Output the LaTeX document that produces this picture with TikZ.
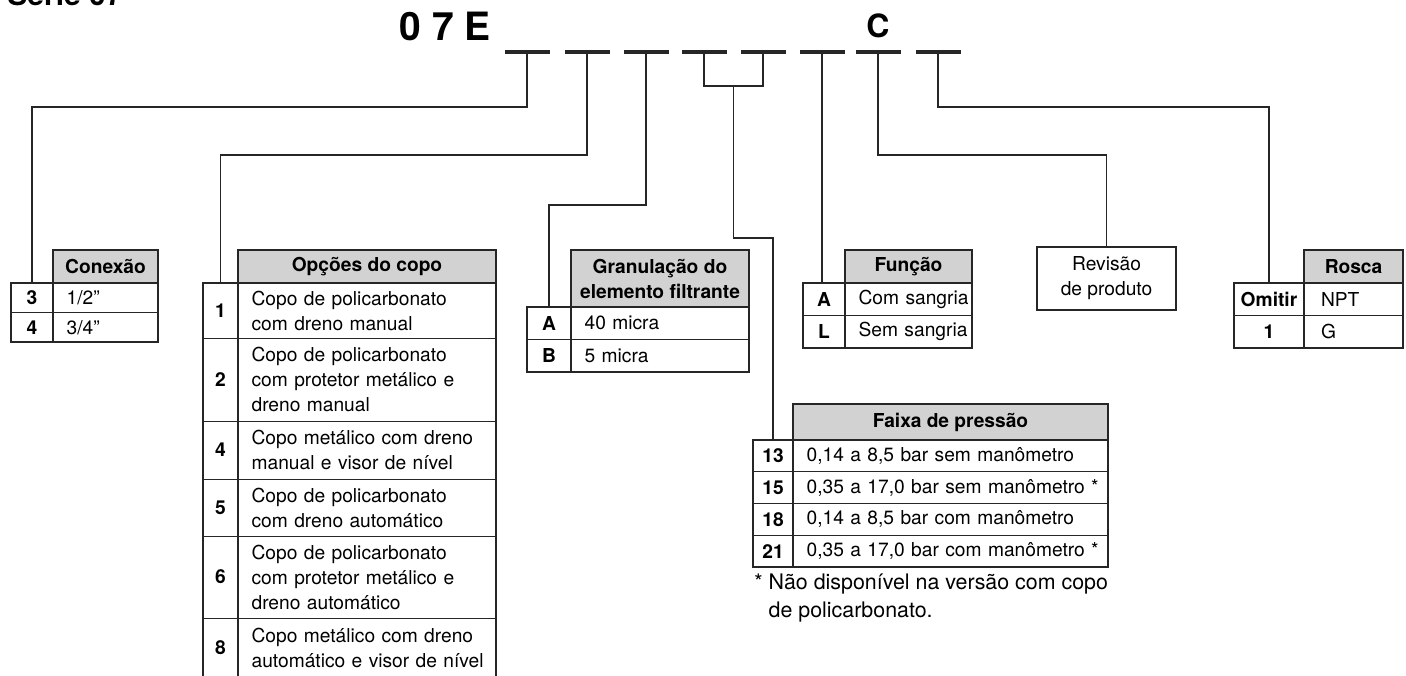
\documentclass[tikz,border=0pt]{standalone}
\usepackage{fontspec}
\setmainfont{TeX Gyre Heros}
\usetikzlibrary{calc}

\begin{document}
\begin{tikzpicture}[
    x=0.5pt, y=-0.5pt,
    font=\fontsize{9.6}{12.5}\selectfont,
    link/.style={line width=0.6pt, draw=black!85},
    slot/.style={fill=black!85, minimum width=22.5pt, minimum height=1.6pt, inner sep=0pt, outer sep=0pt},
    cell/.style={draw=black!85, line width=0.45pt, anchor=north west, inner sep=0pt, outer sep=0pt},
    numc/.style={cell, font=\fontsize{9.6}{12.5}\selectfont\bfseries, align=center},
    txtc/.style={cell, align=left, execute at begin node={\leftskip=6.8pt}},
    head/.style={cell, line width=1pt, fill=gray!35, font=\fontsize{9.6}{12.5}\selectfont\bfseries, align=center},
    frame/.style={draw=black!85, line width=1.2pt},
    code/.style={font=\fontsize{19.5}{20}\selectfont\bfseries, inner sep=0pt}
]
\useasboundingbox (0,0) rectangle (1406,675);

% titulo e codigo
\node[font=\fontsize{15}{15}\selectfont\bfseries, anchor=base west, inner sep=0pt] (serie) at (7,5) {Série 07};
\node[code, anchor=base] (pref) at (445,40) {0 7 E};
\node[code, font=\fontsize{16}{16}\selectfont\bfseries, anchor=base] (letc) at (878,37) {C};
\foreach \i/\x in {1/527,2/587,3/646,4/704,5/763,6/822,7/878,8/938}
    \node[slot] (d\i) at (\x,52) {};

% ------------------- Conexao -------------------
\node[head, minimum width=52.5pt, minimum height=16.5pt] (cx-h) at (53,250) {Conexão};
\node[numc, minimum width=21pt, minimum height=14.75pt] (cx1) at (11,283) {3};
\node[txtc, text width=52.5pt, minimum height=14.75pt] (cx1t) at (53,283) {1/2"};
\node[numc, minimum width=21pt, minimum height=14.75pt] (cx2) at (11,312.5) {4};
\node[txtc, text width=52.5pt, minimum height=14.75pt] (cx2t) at (53,312.5) {3/4"};
\draw[frame] (cx1.north west) rectangle (cx2t.south east);
\draw[frame] (cx1.north east) -- (cx2.south east);

% ------------------- Opcoes do copo -------------------
\node[head, minimum width=129pt, minimum height=16.5pt] (op-h) at (238,250) {Opções do copo};
\node[numc, minimum width=17.5pt, minimum height=27.5pt] (op1) at (203,283) {1};
\node[txtc, text width=129pt, minimum height=27.5pt] (op1t) at (238,283) {Copo de policarbonato\\com dreno manual};
\node[numc, minimum width=17.5pt, minimum height=41.5pt] (op2) at (203,338) {2};
\node[txtc, text width=129pt, minimum height=41.5pt] (op2t) at (238,338) {Copo de policarbonato\\com protetor metálico e\\dreno manual};
\node[numc, minimum width=17.5pt, minimum height=29pt] (op4) at (203,421) {4};
\node[txtc, text width=129pt, minimum height=29pt] (op4t) at (238,421) {Copo metálico com dreno\\manual e visor de nível};
\node[numc, minimum width=17.5pt, minimum height=28.5pt] (op5) at (203,479) {5};
\node[txtc, text width=129pt, minimum height=28.5pt] (op5t) at (238,479) {Copo de policarbonato\\com dreno automático};
\node[numc, minimum width=17.5pt, minimum height=41pt] (op6) at (203,536) {6};
\node[txtc, text width=129pt, minimum height=41pt] (op6t) at (238,536) {Copo de policarbonato\\com protetor metálico e\\dreno automático};
\node[numc, minimum width=17.5pt, minimum height=30pt] (op8) at (203,618) {8};
\node[txtc, text width=129pt, minimum height=30pt] (op8t) at (238,618) {Copo metálico com dreno\\automático e visor de nível};
\draw[frame] (op1.north west) rectangle (op8t.south east);
\draw[frame] (op1.north east) -- (op8.south east);

% ------------------- Granulacao -------------------
\node[head, minimum width=89pt, minimum height=28.5pt] (gr-h) at (571,250) {Granulação do\\elemento filtrante};
\node[numc, minimum width=22pt, minimum height=16.25pt] (gr1) at (527,307) {A};
\node[txtc, text width=89pt, minimum height=16.25pt] (gr1t) at (571,307) {40 micra};
\node[numc, minimum width=22pt, minimum height=16.25pt] (gr2) at (527,339.5) {B};
\node[txtc, text width=89pt, minimum height=16.25pt] (gr2t) at (571,339.5) {5 micra};
\draw[frame] (gr1.north west) rectangle (gr2t.south east);
\draw[frame] (gr1.north east) -- (gr2.south east);

% ------------------- Funcao -------------------
\node[head, minimum width=63.5pt, minimum height=16.5pt] (fn-h) at (845,250) {Função};
\node[numc, minimum width=21pt, minimum height=16.25pt] (fn1) at (803,283) {A};
\node[txtc, text width=63.5pt, minimum height=16.25pt] (fn1t) at (845,283) {Com sangria};
\node[numc, minimum width=21pt, minimum height=16.25pt] (fn2) at (803,315.5) {L};
\node[txtc, text width=63.5pt, minimum height=16.25pt] (fn2t) at (845,315.5) {Sem sangria};
\draw[frame] (fn1.north west) rectangle (fn2t.south east);
\draw[frame] (fn1.north east) -- (fn2.south east);

% ------------------- Revisao -------------------
\node[cell, frame, align=center, minimum width=69.5pt, minimum height=31.5pt] (rev) at (1037,247) {Revisão\\de produto};

% ------------------- Rosca -------------------
\node[head, minimum width=49.5pt, minimum height=16.5pt] (rs-h) at (1304,250) {Rosca};
\node[numc, minimum width=35pt, minimum height=16.25pt] (rs1) at (1234,283) {Omitir};
\node[txtc, text width=49.5pt, minimum height=16.25pt, execute at begin node={\leftskip=8.5pt}] (rs1t) at (1304,283) {NPT};
\node[numc, minimum width=35pt, minimum height=16.25pt] (rs2) at (1234,315.5) {1};
\node[txtc, text width=49.5pt, minimum height=16.25pt, execute at begin node={\leftskip=8.5pt}] (rs2t) at (1304,315.5) {G};
\draw[frame] (rs1.north west) rectangle (rs2t.south east);
\draw[frame] (rs1.north east) -- (rs2.south east);

% ------------------- Faixa de pressao -------------------
\node[head, minimum width=157.5pt, minimum height=18pt] (fp-h) at (793,404) {Faixa de pressão};
\node[numc, minimum width=20pt, minimum height=15.875pt] (fp1) at (753,440) {13};
\node[txtc, text width=157.5pt, minimum height=15.875pt] (fp1t) at (793,440) {0,14 a 8,5 bar sem manômetro};
\node[numc, minimum width=20pt, minimum height=15.875pt] (fp2) at (753,471.75) {15};
\node[txtc, text width=157.5pt, minimum height=15.875pt] (fp2t) at (793,471.75) {0,35 a 17,0 bar sem manômetro *};
\node[numc, minimum width=20pt, minimum height=15.875pt] (fp3) at (753,503.5) {18};
\node[txtc, text width=157.5pt, minimum height=15.875pt] (fp3t) at (793,503.5) {0,14 a 8,5 bar com manômetro};
\node[numc, minimum width=20pt, minimum height=15.875pt] (fp4) at (753,535.25) {21};
\node[txtc, text width=157.5pt, minimum height=15.875pt] (fp4t) at (793,535.25) {0,35 a 17,0 bar com manômetro *};
\draw[frame] (fp1.north west) rectangle (fp4t.south east);
\draw[frame] (fp1.north east) -- (fp4.south east);
\node[anchor=north west, inner sep=0pt, align=left, font=\fontsize{10.7}{14}\selectfont] (nota) at (754,573)
    {* Não disponível na versão com copo\\\hphantom{* }de policarbonato.};

% ------------------- ligacoes -------------------
\coordinate (k1) at (0,107);
\coordinate (k2) at (0,155);
\coordinate (k3) at (0,205);
\coordinate (k4) at (0,86);
\coordinate (k5) at (0,238);
\draw[link] (d1.center) -- (d1.center |- k1) -| (cx1.north);
\draw[link] (d2.center) -- (d2.center |- k2) -| (op1.north);
\draw[link] (d3.center) -- (d3.center |- k3) -| (gr1.north);
\draw[link] (d4.center) |- (k4 -| d5.center) -- (d5.center);
\coordinate (fork) at ($(d4.center |- k4)!0.5!(d5.center |- k4)$);
\draw[link] (fork) -- (fork |- k5) -| (fp1.north);
\draw[link] (d6.center) -- (d6.center |- fn1.north);
\draw[link] (d7.center) -- (d7.center |- k2) -| (rev.north);
\draw[link] (d8.center) -- (d8.center |- k1) -| (rs1.north);

\end{tikzpicture}
\end{document}
